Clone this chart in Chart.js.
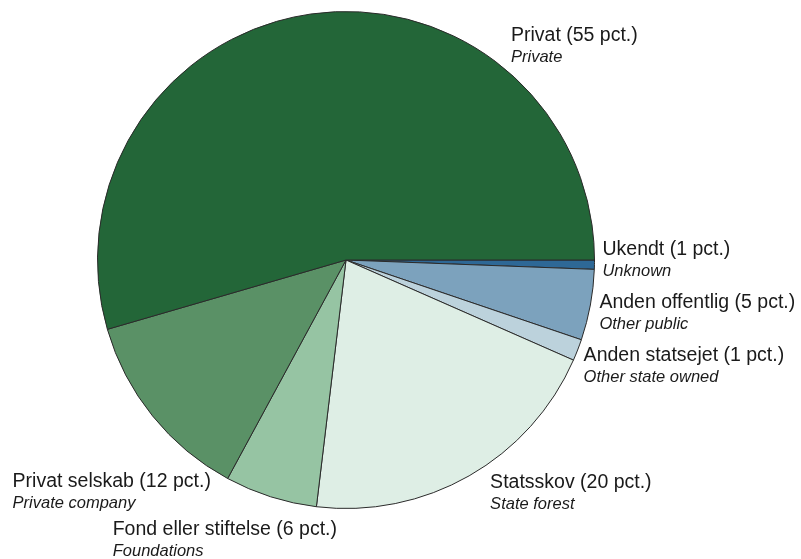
<!DOCTYPE html>
<html lang="da">
<head>
    <meta charset="UTF-8">
    <title>Skovareal fordelt efter ejerform</title>
    <script src="https://cdn.jsdelivr.net/npm/chart.js"></script>
    <style>
        html, body { margin: 0; padding: 0; background: #fff; }
        #ownerChart { display: block; }
    </style>
</head>
<body>
    <canvas id="ownerChart" width="801" height="559"></canvas>
    <script>
        // slices listed clockwise from 3 o'clock
        const labelsDa = ['Ukendt (1 pct.)', 'Anden offentlig (5 pct.)', 'Anden statsejet (1 pct.)',
            'Statsskov (20 pct.)', 'Fond eller stiftelse (6 pct.)', 'Privat selskab (12 pct.)', 'Privat (55 pct.)'];
        const labelsEn = ['Unknown', 'Other public', 'Other state owned',
            'State forest', 'Foundations', 'Private company', 'Private'];
        // shares
        const shares = [0.6, 4.6, 1.4, 20.3, 6.0, 12.6, 54.5];
        const sliceColors = ['#2e6896', '#7ca2bd', '#bcd2dc', '#deeee5', '#96c4a3', '#5a9166', '#236638'];

        // where each label sits relative to the outer middle of its slice
        const labelOffsets = [[8, -10], [9, 3], [6, 11], [21, 12], [-158, 38], [-140, 71], [200, 27]];

        const sliceLabels = {
            id: 'sliceLabels',
            afterDraw(chart) {
                const ctx = chart.ctx;
                const arcs = chart.getDatasetMeta(0).data;
                ctx.save();
                ctx.fillStyle = '#1a1a1a';
                ctx.textAlign = 'left';
                ctx.textBaseline = 'alphabetic';
                arcs.forEach((arc, i) => {
                    const mid = (arc.startAngle + arc.endAngle) / 2;
                    const px = arc.x + Math.cos(mid) * arc.outerRadius;
                    const py = arc.y + Math.sin(mid) * arc.outerRadius;
                    const x = px + labelOffsets[i][0];
                    const y = py + labelOffsets[i][1];
                    ctx.font = '19.5px "Liberation Sans", Arial, sans-serif';
                    ctx.fillText(labelsDa[i], x, y);
                    ctx.font = 'italic 16.5px "Liberation Sans", Arial, sans-serif';
                    ctx.fillText(labelsEn[i], x, y + 21);
                });
                ctx.restore();
            }
        };

        const ctx = document.getElementById('ownerChart').getContext('2d');
        new Chart(ctx, {
            type: 'pie',
            data: {
                labels: labelsDa,
                datasets: [{
                    data: shares,
                    backgroundColor: sliceColors,
                    borderColor: '#2a2a2a',
                    borderWidth: 1
                }]
            },
            options: {
                responsive: false,
                animation: false,
                rotation: 90,
                layout: { padding: { top: 11, bottom: 50, left: 97, right: 206 } },
                plugins: {
                    legend: { display: false },
                    tooltip: { enabled: false }
                }
            },
            plugins: [sliceLabels]
        });
    </script>
</body>
</html>
